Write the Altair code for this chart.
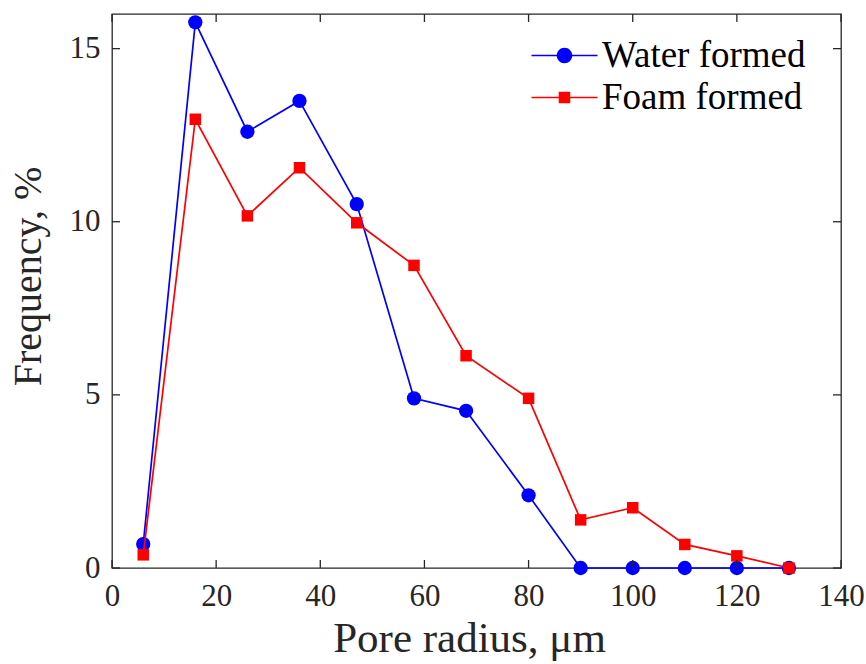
import altair as alt
import pandas as pd

# ---- data ----
pore_radius = [6, 16, 26, 36, 47, 58, 68, 80, 90, 100, 110, 120, 130]
water_formed = [0.69, 15.76, 12.60, 13.49, 10.51, 4.90, 4.54, 2.10, 0, 0, 0, 0, 0]
foam_formed = [0.38, 12.96, 10.17, 11.56, 9.97, 8.74, 6.13, 4.90, 1.39, 1.74, 0.68, 0.35, 0]
series_names = ["Water formed", "Foam formed"]
series_colors = ["#0000FF", "#FF0000"]
x_ticks = [0, 20, 40, 60, 80, 100, 120, 140]
y_ticks = [0, 5, 10, 15]

rows = []
for name, vals in zip(series_names, [water_formed, foam_formed]):
    for xv, yv in zip(pore_radius, vals):
        rows.append({"radius": xv, "freq": yv, "series": name})
df = pd.DataFrame(rows)
xt_df = pd.DataFrame({"t": x_ticks})
yt_df = pd.DataFrame({"t": y_ticks})

FONT = "Liberation Serif"
AX = "#262626"
W, H = 729, 554
TICK = 8

# legend symbols: a short line segment (thin bar) with the marker on top
# (symbol unit = 16.5 px; the bar spans +-2 units = 66 px)
k = 0.2596
r = 0.47
bar = "M-2,-0.052H2V0.052H-2Z"
circle_leg = (bar + f"M{r},0C{r},{k} {k},{r} 0,{r}C-{k},{r} -{r},{k} -{r},0"
              f"C-{r},-{k} -{k},-{r} 0,-{r}C{k},-{r} {r},-{k} {r},0Z")
s = 0.35
square_leg = bar + f"M-{s},-{s}H{s}V{s}H-{s}Z"

xscale = alt.Scale(domain=[0, 140], nice=False, zero=False)
yscale = alt.Scale(domain=[0, 16], nice=False)

x_axis = alt.Axis(values=x_ticks, grid=False, domain=False, ticks=False,
                  labelFont=FONT, labelFontSize=31, labelColor=AX, labelPadding=13, labelFlush=False,
                  title="Pore radius, μm", titleFont=FONT, titleFontSize=43, titleFontWeight="normal",
                  titleColor=AX, titleBaseline="alphabetic", titleY=83, titleX=357, titleAlign="center")
y_axis = alt.Axis(values=y_ticks, grid=False, domain=False, ticks=False,
                  labelFont=FONT, labelFontSize=31, labelColor=AX, labelPadding=12, labelFlush=False,
                  title="Frequency, %", titleFont=FONT, titleFontSize=40, titleFontWeight="normal",
                  titleColor=AX, titleBaseline="alphabetic", titleAngle=270, titleX=-72, titleY=262,
                  titleAlign="center")

base = alt.Chart(df)
X = alt.X("radius:Q", scale=xscale, axis=x_axis)
Y = alt.Y("freq:Q", scale=yscale, axis=y_axis)

layers = []
for name, col, shp, sz in zip(series_names, series_colors, ["circle", "square"], [205, 132]):
    sub = base.transform_filter(alt.datum.series == name)
    layers.append(sub.mark_line(color=col, strokeWidth=1.7).encode(x=X, y=Y))
    layers.append(sub.mark_point(color=col, shape=shp, size=sz, filled=True, opacity=1,
                                 strokeWidth=0).encode(x=X, y=Y))

# legend-only layer (draws no marks itself)
legend = alt.Legend(
    title=None, orient="none", legendX=434, legendY=23, padding=0,
    labelFont=FONT, labelFontSize=37, labelColor="#000000", labelLimit=400,
    labelOffset=19, symbolSize=1089, rowPadding=4, symbolStrokeWidth=0, symbolOpacity=1,
)
leg_layer = base.transform_filter("datum.radius < 0").mark_point(filled=True, opacity=1).encode(
    x=X, y=Y,
    color=alt.Color("series:N", scale=alt.Scale(domain=series_names, range=series_colors), legend=legend),
    shape=alt.Shape("series:N", scale=alt.Scale(domain=series_names, range=[circle_leg, square_leg]),
                    legend=legend),
)

# inward ticks on all four sides, placed through the scales
tick_style = dict(color=AX, strokeWidth=1.3)
xs = alt.X("t:Q", scale=xscale, axis=x_axis)
ys = alt.Y("t:Q", scale=yscale, axis=y_axis)
t_bottom = alt.Chart(xt_df).mark_rule(**tick_style).encode(x=xs, y=alt.value(H), y2=alt.value(H - TICK))
t_top = alt.Chart(xt_df).mark_rule(**tick_style).encode(x=xs, y=alt.value(0), y2=alt.value(TICK))
t_left = alt.Chart(yt_df).mark_rule(**tick_style).encode(y=ys, x=alt.value(0), x2=alt.value(TICK))
t_right = alt.Chart(yt_df).mark_rule(**tick_style).encode(y=ys, x=alt.value(W), x2=alt.value(W - TICK))

chart = alt.layer(*layers, leg_layer, t_bottom, t_top, t_left, t_right).properties(
    width=W, height=H,
    autosize=alt.AutoSizeParams(type="none"),
    padding={"left": 112, "top": 14, "right": 25, "bottom": 96},
).configure(font=FONT).configure_view(stroke=AX, strokeWidth=1.3)

chart.save("out.html", embed_options={"renderer": "svg", "actions": False})
